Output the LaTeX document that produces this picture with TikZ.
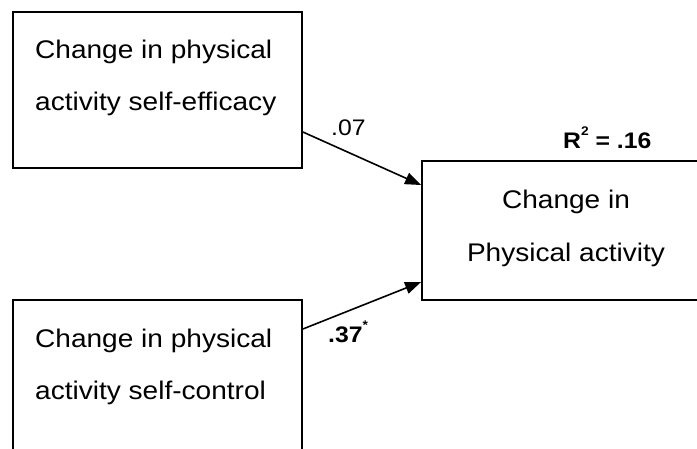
\documentclass[tikz,border=0pt]{standalone}
\usepackage{fontspec}
\setmainfont[FakeStretch=1.1]{Liberation Sans}
\usetikzlibrary{arrows.meta}
\newcommand{\supmark}[1]{\raisebox{0.55em}{\fontsize{12.5}{12.5}\selectfont #1}}
\begin{document}
\begin{tikzpicture}[x=1pt,y=-1pt,
  varbox/.style={draw, line width=1.8pt, inner sep=0pt, rectangle},
  boxtext/.style={anchor=base west, inner sep=0pt, font=\fontsize{25.5}{30}\selectfont},
  coef/.style={anchor=base west, inner sep=0pt, font=\fontsize{22.5}{26}\selectfont},
  coefbold/.style={coef, font=\fontsize{22.5}{26}\selectfont\bfseries},
  path/.style={line width=1.6pt, -{Triangle[length=16pt,width=12pt]}}]
  \useasboundingbox (0,0) rectangle (697,448);
  \begin{scope}
    \clip (0,0) rectangle (697,448);
    % predictor and outcome boxes
    \node[varbox, minimum width=289pt, minimum height=156pt] (eff) at (157.5,90) {};
    \node[varbox, minimum width=289pt, minimum height=160pt] (ctl) at (157.5,380) {};
    \node[varbox, minimum width=288pt, minimum height=139pt] (pa) at (566,230.5) {};
  \end{scope}
  % box labels
  \node[boxtext] (eff1) at (35,58) {Change in physical};
  \node[boxtext] (eff2) at (35,110) {activity self-efficacy};
  \node[boxtext] (ctl1) at (35,347) {Change in physical};
  \node[boxtext] (ctl2) at (35,399) {activity self-control};
  \node[boxtext, anchor=base] (pa1) at (566,208) {Change in};
  \node[boxtext, anchor=base] (pa2) at (566,261) {Physical activity};
  % paths
  \draw[path] ([yshift=-42pt]eff.east) -- ([yshift=45.5pt]pa.west);
  \draw[path] ([yshift=51pt]ctl.east) -- ([yshift=-51.5pt]pa.west);
  % coefficients
  \node[coef] (b1) at (331,135) {.07};
  \node[coefbold] (b2) at (328,342) {.37\supmark{*}};
  \node[coefbold] (r2) at (563,148) {R\supmark{2} = .16};
\end{tikzpicture}
\end{document}
